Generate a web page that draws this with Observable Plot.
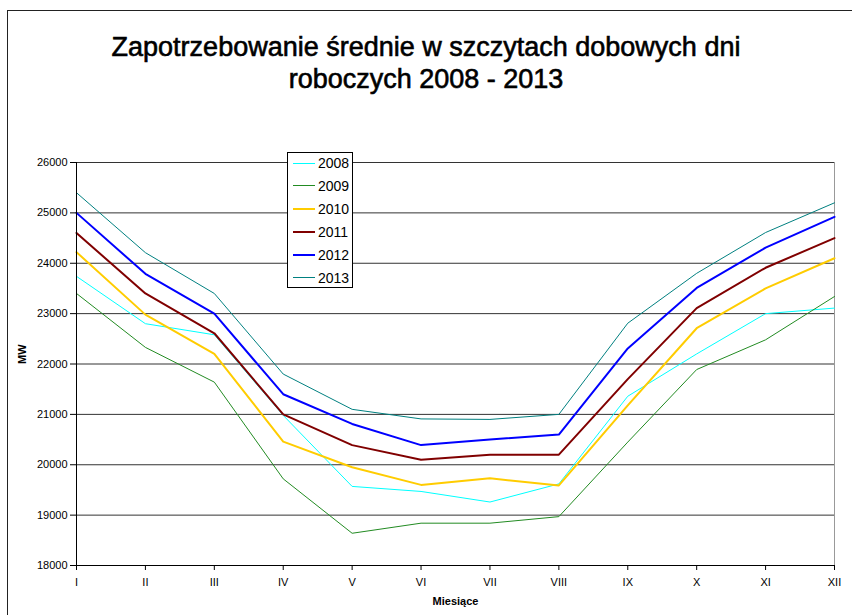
<!DOCTYPE html>
<html>
<head>
<meta charset="utf-8">
<script src="https://cdn.jsdelivr.net/npm/d3@7"></script>
<script src="https://cdn.jsdelivr.net/npm/@observablehq/plot@0.6"></script>
<style>
  html, body { margin: 0; padding: 0; background: #fff; }
  body { width: 852px; height: 615px; overflow: hidden; position: relative; font-family: "Liberation Sans", Arial, sans-serif; }
  #frame { position: absolute; left: 7px; top: 10px; width: 900px; height: 700px; border-left: 1.5px solid #222; border-top: 1.5px solid #222; }
  #title { position: absolute; left: 0; top: 31px; width: 852px; text-align: center; font-size: 27px; line-height: 32px; color: #000; -webkit-text-stroke: 0.6px #000; }
  #chart { position: absolute; left: 0; top: 100px; }
  #legend { position: absolute; left: 287px; top: 152px; width: 66px; height: 136px; border: 1px solid #000; background: #fff; box-sizing: border-box; }
  .li { position: absolute; left: 5px; height: 20px; display: flex; align-items: center; font-size: 14px; }
  .sw { width: 22px; margin-right: 3px; }
</style>
</head>
<body>
<div id="frame"></div>
<div id="title">Zapotrzebowanie średnie w szczytach dobowych dni<br>roboczych 2008 - 2013</div>
<div id="chart"></div>
<div id="legend"></div>
<script>
const months = ["I","II","III","IV","V","VI","VII","VIII","IX","X","XI","XII"];
const years = ["2008","2009","2010","2011","2012","2013"];
const v2008 = [23740, 22800, 22580, 20980, 19570, 19470, 19260, 19620, 21360, 22200, 23000, 23110];
const v2009 = [23400, 22330, 21640, 19720, 18640, 18840, 18840, 18970, 20450, 21890, 22480, 23340];
const v2010 = [24220, 22980, 22200, 20460, 19950, 19600, 19730, 19590, 21180, 22710, 23500, 24100];
const v2011 = [24600, 23400, 22610, 21000, 20390, 20100, 20200, 20200, 21700, 23110, 23910, 24500];
const v2012 = [25000, 23790, 23000, 21400, 20810, 20390, 20500, 20600, 22310, 23510, 24310, 24920];
const v2013 = [25400, 24210, 23400, 21800, 21100, 20910, 20900, 21000, 22810, 23800, 24610, 25200];
const yTicks = [18000, 19000, 20000, 21000, 22000, 23000, 24000, 25000, 26000];
const colors = ["#00FFFF", "#228B22", "#FFCC00", "#800000", "#0000FF", "#008080"];
const widths = [1, 1, 2, 2, 2, 1];

const seriesVals = [v2008, v2009, v2010, v2011, v2012, v2013];
const data = [];
years.forEach((y, i) => months.forEach((m, j) => data.push({year: y, idx: j, value: seriesVals[i][j]})));
const monthIdx = months.map((m, j) => j);

const lineMarks = years.map((y, i) => Plot.line(data.filter(d => d.year === y), {
  x: "idx", y: "value", stroke: colors[i], strokeWidth: widths[i]
}));

const chart = Plot.plot({
  width: 852,
  height: 515,
  marginTop: 62,
  marginBottom: 50,
  marginLeft: 76,
  marginRight: 18,
  style: { fontFamily: "Liberation Sans, Arial, sans-serif", fontSize: "11px", color: "#000", background: "transparent" },
  x: { domain: [0, 11] },
  y: { domain: [18000, 26000] },
  marks: [
    Plot.ruleY(yTicks.slice(1), { stroke: "#333", strokeWidth: 1 }),
    Plot.ruleX([11], { stroke: "#999", strokeWidth: 1 }),
    ...lineMarks,
    Plot.axisY({ ticks: yTicks, tickFormat: d3.format("d"), tickSize: 6, tickPadding: 3, label: null, fontSize: 11 }),
    Plot.axisX({ ticks: monthIdx, tickFormat: i => months[i], tickSize: 5, tickPadding: 8, label: null, fontSize: 11 }),
    Plot.ruleX([0], { stroke: "#000", strokeWidth: 1 }),
    Plot.ruleY([18000], { stroke: "#000", strokeWidth: 1 }),
    Plot.text(["MW"], { frameAnchor: "left", dx: -54, rotate: -90, fontWeight: "bold", fontSize: 11 }),
    Plot.text(["Miesiące"], { frameAnchor: "bottom", dy: 39, fontWeight: "bold", fontSize: 11 })
  ]
});
document.getElementById("chart").appendChild(chart);

const legend = document.getElementById("legend");
years.forEach((y, i) => {
  const row = document.createElement("div");
  row.className = "li";
  row.style.top = (0 + i * 22.9) + "px";
  const sw = document.createElement("div");
  sw.className = "sw";
  sw.style.borderTop = widths[i] + "px solid " + colors[i];
  const t = document.createElement("span");
  t.textContent = y;
  row.appendChild(sw);
  row.appendChild(t);
  legend.appendChild(row);
});
</script>
</body>
</html>
